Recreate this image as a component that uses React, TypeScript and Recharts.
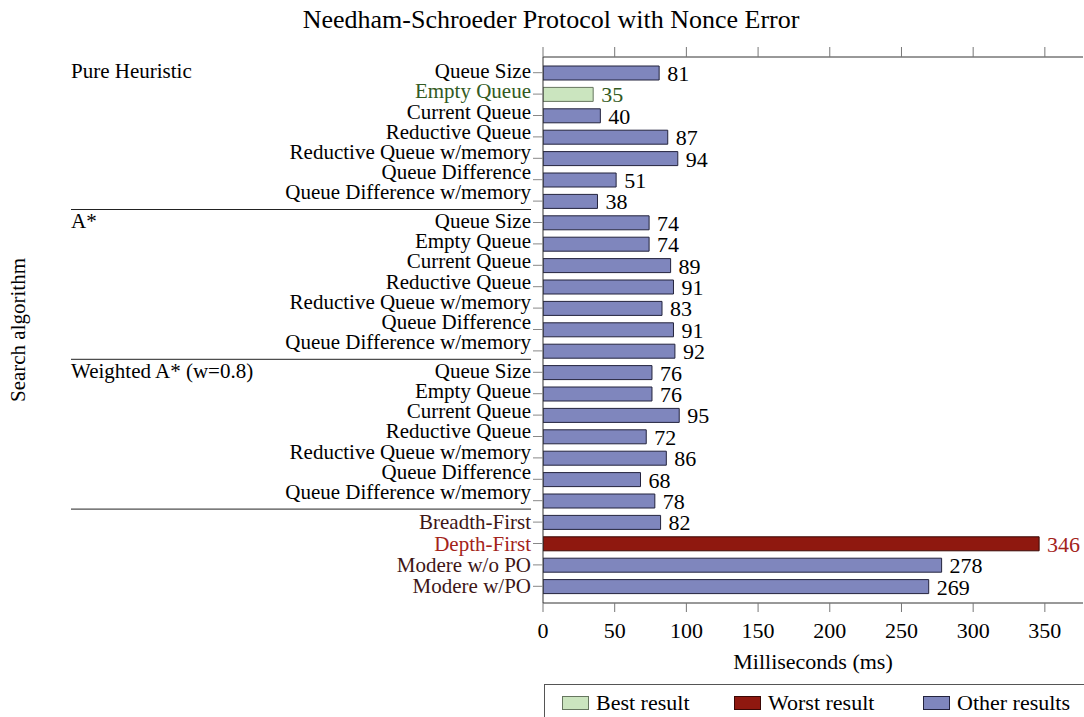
import React from 'react';
import { BarChart, Bar, XAxis, YAxis, Cell, LabelList } from 'recharts';

const FONT = '"Liberation Serif", "Times New Roman", serif';

const heuristics = [
  'Queue Size',
  'Empty Queue',
  'Current Queue',
  'Reductive Queue',
  'Reductive Queue w/memory',
  'Queue Difference',
  'Queue Difference w/memory',
];
const baselines = ['Breadth-First', 'Depth-First', 'Modere w/o PO', 'Modere w/PO'];
const categories = [...heuristics, ...heuristics, ...heuristics, ...baselines];

const pureHeuristicValues = [81, 35, 40, 87, 94, 51, 38];
const aStarValues = [74, 74, 89, 91, 83, 91, 92];
const weightedAStarValues = [76, 76, 95, 72, 86, 68, 78];
const baselineValues = [82, 346, 278, 269];
const values = [...pureHeuristicValues, ...aStarValues, ...weightedAStarValues, ...baselineValues];

const groupNames = ['Pure Heuristic', 'A*', 'Weighted A* (w=0.8)'];
const groupStarts = [0, 7, 14, 21];

const xTicks = [0, 50, 100, 150, 200, 250, 300, 350];
const xDomain = [0, 376.6];

const legendItems = ['Best result', 'Worst result', 'Other results'];

const COLORS = {
  best: { fill: '#cbe5bf', stroke: '#66765f', text: '#325a22' },
  worst: { fill: '#8f180f', stroke: '#3a0805', text: '#a3231a' },
  other: { fill: '#7f86bd', stroke: '#23233d', text: '#000000' },
};

const minV = Math.min(...values);
const maxV = Math.max(...values);
const kindOf = (v: number) => (v === minV ? 'best' : v === maxV ? 'worst' : 'other');

const data = categories.map((c, i) => ({ id: String(i), name: c, value: values[i], kind: kindOf(values[i]) }));

const labelColor = (i: number) => {
  const k = data[i].kind;
  if (k === 'best') return COLORS.best.text;
  if (k === 'worst') return COLORS.worst.text;
  if (i >= 21) return '#3e1616';
  return '#000000';
};

const CatTick = (props: any) => {
  const { x, y, payload } = props;
  const i = Number(payload.value);
  const inGroups = i < 21;
  const k = inGroups ? i % 7 : 0;
  const dy = inGroups ? -1.5 - 1.2 * k : 0;
  const gi = Math.floor(i / 7);
  return (
    <g>
      <text
        x={x - 1}
        y={y + dy}
        textAnchor="end"
        dominantBaseline="central"
        fontSize={21}
        fontFamily={FONT}
        fill={labelColor(i)}
      >
        {categories[i]}
      </text>
      {inGroups && k === 0 && (
        <text x={71} y={y + dy} textAnchor="start" dominantBaseline="central" fontSize={21} fontFamily={FONT} fill="#000">
          {groupNames[gi]}
        </text>
      )}
      {i > 0 && groupStarts.includes(i) && (
        <line x1={71} x2={x - 1} y1={y - 13} y2={y - 13} stroke="#222" strokeWidth={1} />
      )}
    </g>
  );
};

const ValueLabel = (props: any) => {
  const { x, y, width, height, value, index } = props;
  const k = data[index].kind;
  const fill = k === 'best' ? COLORS.best.text : k === 'worst' ? COLORS.worst.text : '#000';
  return (
    <text
      x={x + width + 8}
      y={y + height / 2 + 0.5}
      dominantBaseline="central"
      fontSize={22}
      fontFamily={FONT}
      fill={fill}
    >
      {value}
    </text>
  );
};

const YLabel = (props: any) => {
  const { viewBox } = props;
  const cy = viewBox.y + viewBox.height / 2;
  return (
    <text
      x={18}
      y={cy}
      transform={`rotate(-90 18 ${cy})`}
      textAnchor="middle"
      dominantBaseline="central"
      fontSize={21}
      fontFamily={FONT}
      fill="#000"
    >
      Search algorithm
    </text>
  );
};

const legendKinds = ['best', 'worst', 'other'] as const;
const legendX = [17, 189, 378];

export default function App() {
  return (
    <div style={{ position: 'absolute', left: 0, top: 0, width: 1084, height: 717, background: '#fff', overflow: 'hidden' }}>
      <div
        style={{
          position: 'absolute',
          left: 0,
          top: 4,
          width: 1102,
          textAlign: 'center',
          fontFamily: FONT,
          fontSize: 26,
          lineHeight: '32px',
          color: '#000',
        }}
      >
        Needham-Schroeder Protocol with Nonce Error
      </div>
      <BarChart
        width={1084}
        height={717}
        data={data}
        layout="vertical"
        margin={{ top: 56, right: 1, left: 0, bottom: 44 }}
        barCategoryGap={0}
      >
        <XAxis
          type="number"
          domain={xDomain}
          ticks={xTicks}
          allowDataOverflow
          orientation="bottom"
          height={70}
          tickSize={9}
          tickMargin={10}
          tickLine={{ stroke: '#777' }}
          axisLine={{ stroke: '#333' }}
          tick={{ fontSize: 22, fontFamily: FONT, fill: '#000' }}
          label={{ value: 'Milliseconds (ms)', position: 'insideBottom', offset: 4, fontSize: 22, fontFamily: FONT, fill: '#000' }}
        />
        <XAxis
          xAxisId="top"
          type="number"
          domain={xDomain}
          ticks={xTicks}
          allowDataOverflow
          orientation="top"
          height={1}
          tickSize={10}
          tickLine={{ stroke: '#777' }}
          axisLine={{ stroke: '#333' }}
          tickFormatter={() => ''}
        />
        <YAxis
          type="category"
          dataKey="id"
          width={543}
          interval={0}
          tickSize={10}
          tickMargin={1}
          padding={{ top: 5, bottom: 6 }}
          tickLine={{ stroke: '#888' }}
          axisLine={{ stroke: '#333' }}
          tick={<CatTick />}
          label={<YLabel />}
        />
        <Bar dataKey="value" barSize={14} isAnimationActive={false}>
          {data.map((d, i) => (
            <Cell key={i} fill={COLORS[d.kind as 'best'].fill} stroke={COLORS[d.kind as 'best'].stroke} strokeWidth={1} />
          ))}
          <LabelList dataKey="value" content={<ValueLabel />} />
        </Bar>
      </BarChart>
      <div
        style={{
          position: 'absolute',
          left: 544,
          top: 684,
          width: 560,
          height: 50,
          border: '1px solid #555',
          boxSizing: 'border-box',
          fontFamily: FONT,
          fontSize: 22,
        }}
      >
        {legendItems.map((name, i) => (
          <div key={name} style={{ position: 'absolute', left: legendX[i], top: 5, display: 'flex', alignItems: 'center', whiteSpace: 'nowrap' }}>
            <span
              style={{
                display: 'inline-block',
                width: 27,
                height: 14,
                background: COLORS[legendKinds[i]].fill,
                border: `1px solid ${COLORS[legendKinds[i]].stroke}`,
                boxSizing: 'border-box',
                marginRight: 7,
              }}
            />
            <span style={{ lineHeight: '26px' }}>{name}</span>
          </div>
        ))}
      </div>
    </div>
  );
}
